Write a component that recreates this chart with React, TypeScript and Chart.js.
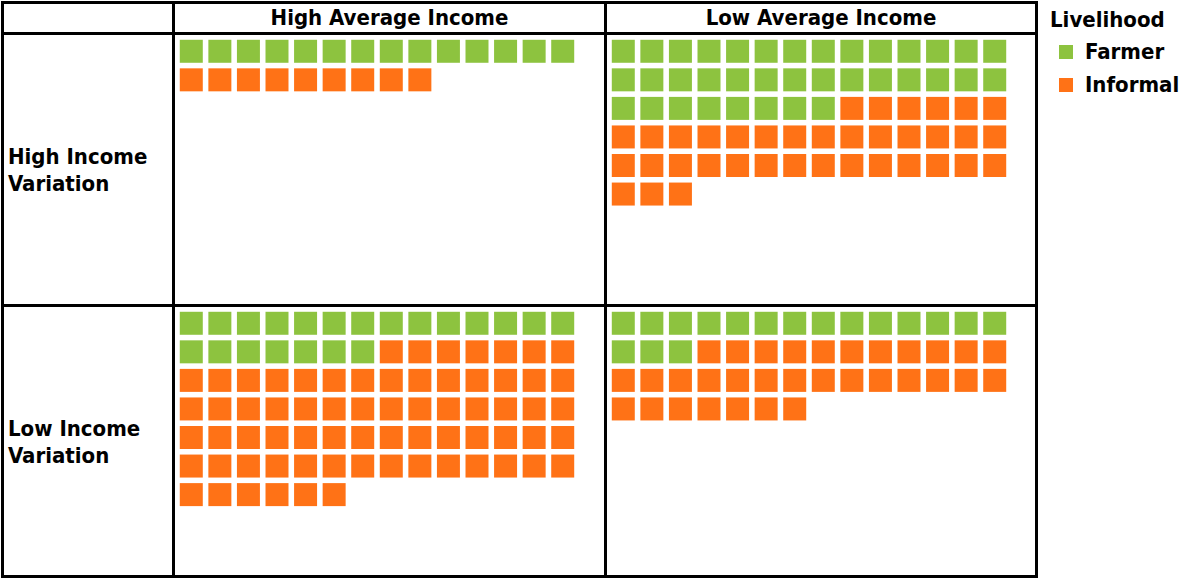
import React, { useEffect, useRef } from "react";
import { Chart, registerables } from "chart.js";

Chart.register(...registerables);

// ---- data ----
const columnHeaders = ["High Average Income", "Low Average Income"];
const rowHeaders = [["High Income", "Variation"], ["Low Income", "Variation"]];
const seriesNames = ["Farmer", "Informal"];
const seriesColors = ["#8DC33F", "#FF7216"];
// counts per panel, order: [row][col]
const farmerCounts = [
  [14, 36],
  [21, 17],
];
const informalCounts = [
  [9, 37],
  [69, 32],
];
const legendTitle = "Livelihood";
const squaresPerRow = 14;
const maxRows = 9;

const FONT = "'DejaVu Sans Condensed', 'DejaVu Sans', sans-serif";

function waffle(counts: number[]) {
  // assign sequential waffle cells to each series
  let idx = 0;
  return counts.map((n) => {
    const pts: { x: number; y: number }[] = [];
    for (let k = 0; k < n; k++) {
      pts.push({ x: (idx % squaresPerRow) + 0.5, y: Math.floor(idx / squaresPerRow) + 0.5 });
      idx++;
    }
    return pts;
  });
}

const PITCH = 400 / 14;
const SQUARE = 23;

function Panel({ counts, left, top }: { counts: number[]; left: number; top: number }) {
  const ref = useRef<HTMLCanvasElement | null>(null);
  useEffect(() => {
    if (!ref.current) return;
    const sets = waffle(counts);
    const chart = new Chart(ref.current, {
      type: "scatter",
      data: {
        datasets: sets.map((pts, i) => ({
          label: seriesNames[i],
          data: pts,
          backgroundColor: seriesColors[i],
          borderWidth: 0,
          pointStyle: "rect",
          pointRadius: SQUARE / Math.SQRT2,
          pointHoverRadius: SQUARE / Math.SQRT2,
          pointBorderWidth: 0,
          clip: false,
        })),
      },
      options: {
        responsive: false,
        animation: false,
        events: [],
        layout: { padding: 0, autoPadding: false },
        plugins: { legend: { display: false }, tooltip: { enabled: false } },
        scales: {
          x: { type: "linear", min: 0, max: squaresPerRow, display: false },
          y: { type: "linear", min: 0, max: maxRows, reverse: true, display: false },
        },
      },
    });
    return () => chart.destroy();
  }, []);
  return (
    <canvas
      ref={ref}
      width={Math.round(PITCH * squaresPerRow)}
      height={Math.round(PITCH * maxRows)}
      style={{ position: "absolute", left, top }}
    />
  );
}

const line = (l: number, t: number, w: number, h: number, key: string) => (
  <div key={key} style={{ position: "absolute", left: l, top: t, width: w, height: h, background: "#000" }} />
);

export default function App() {
  const colLefts = [177, 609];
  const rowTops = [37, 309];
  return (
    <div
      style={{
        position: "absolute",
        left: 0,
        top: 0,
        width: 1189,
        height: 579,
        background: "#fff",
        fontFamily: FONT,
        overflow: "hidden",
      }}
    >
      {/* table lines */}
      {line(1, 1, 1037, 3, "t")}
      {line(1, 32, 1037, 3, "h1")}
      {line(1, 304, 1037, 3, "h2")}
      {line(1, 575, 1037, 3, "b")}
      {line(1, 1, 3, 577, "l")}
      {line(172, 1, 3, 577, "v1")}
      {line(604, 1, 3, 577, "v2")}
      {line(1035, 1, 3, 577, "r")}

      {/* column headers */}
      {columnHeaders.map((t, i) => (
        <div
          key={t}
          style={{
            position: "absolute",
            left: i === 0 ? 175 : 607,
            width: i === 0 ? 429 : 428,
            top: 3,
            height: 29,
            lineHeight: "29px",
            textAlign: "center",
            fontSize: 22,
            fontWeight: "bold",
            color: "#000",
            whiteSpace: "nowrap",
          }}
        >
          {t}
        </div>
      ))}

      {/* row headers */}
      {rowHeaders.map((lines, i) => (
        <div
          key={i}
          style={{
            position: "absolute",
            left: 8,
            top: i === 0 ? 35 : 307,
            height: 269,
            display: "flex",
            flexDirection: "column",
            justifyContent: "center",
            fontSize: 22,
            fontWeight: "bold",
            lineHeight: "27px",
            color: "#000",
            whiteSpace: "nowrap",
          }}
        >
          {lines.map((l) => (
            <div key={l}>{l}</div>
          ))}
        </div>
      ))}

      {/* panels */}
      {farmerCounts.map((row, r) =>
        row.map((f, c) => (
          <Panel key={`${r}-${c}`} counts={[f, informalCounts[r][c]]} left={colLefts[c]} top={rowTops[r]} />
        ))
      )}

      {/* legend */}
      <div
        style={{
          position: "absolute",
          left: 1050,
          top: 6,
          fontSize: 22,
          fontWeight: "bold",
          lineHeight: "28px",
          whiteSpace: "nowrap",
        }}
      >
        {legendTitle}
      </div>
      {seriesNames.map((s, i) => (
        <div
          key={s}
          style={{
            position: "absolute",
            left: 1059,
            top: 38 + i * 33,
            height: 28,
            display: "flex",
            alignItems: "center",
            fontSize: 22,
            fontWeight: "bold",
            whiteSpace: "nowrap",
          }}
        >
          <span style={{ display: "inline-block", width: 14, height: 14, background: seriesColors[i], marginRight: 12 }} />
          <span style={{ lineHeight: "28px" }}>{s}</span>
        </div>
      ))}
    </div>
  );
}
